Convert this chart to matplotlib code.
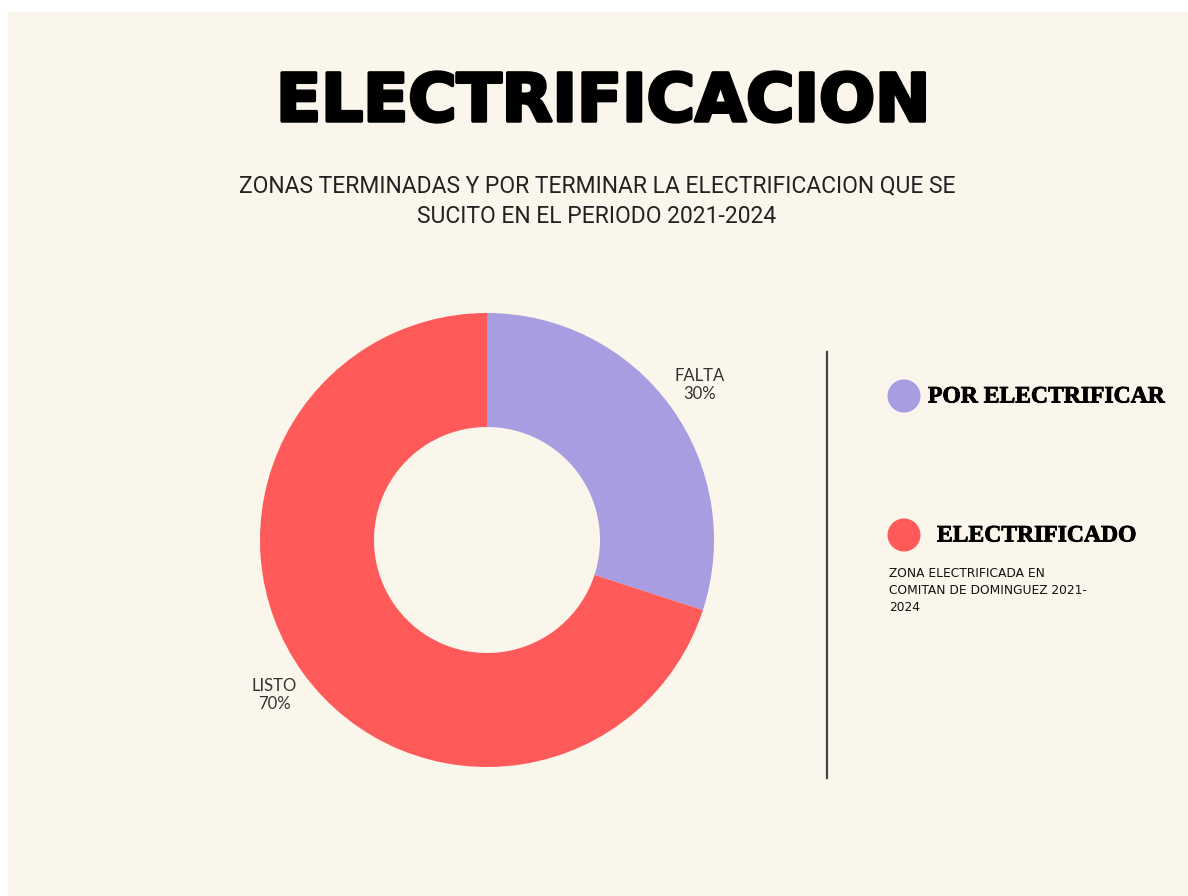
import matplotlib
matplotlib.use('Agg')
import matplotlib.pyplot as plt
import matplotlib.patheffects as pe
from matplotlib.patches import Circle, Rectangle

# data
labels = ['FALTA', 'LISTO']
values = [30, 70]
colors = ['#A89DE1', '#FF5A5A']
legend_names = ['POR ELECTRIFICAR', 'ELECTRIFICADO']
title = 'ELECTRIFICACION'
subtitle = ('ZONAS TERMINADAS Y POR TERMINAR LA ELECTRIFICACION QUE SE\n'
            'SUCITO EN EL PERIODO 2021-2024')
note = 'ZONA ELECTRIFICADA EN\nCOMITAN DE DOMINGUEZ 2021-\n2024'

W, H = 1188, 896
BG = '#FAF6EB'


def Y(y):
    # pixel row (from top) to data y
    return H - y


fig = plt.figure(figsize=(W / 100, H / 100), dpi=100)
fig.patch.set_facecolor('white')
ax = fig.add_axes([0, 0, 1, 1])
ax.add_patch(Rectangle((8, 0), W - 8, H - 12, color=BG, zorder=0))

pie_labels = ['%s\n%d%%' % (l, v) for l, v in zip(labels, values)]
ax.pie(values, colors=colors, labels=pie_labels, startangle=90,
       counterclock=False, center=(487, Y(540)), radius=227,
       labeldistance=1.16,
       wedgeprops=dict(width=114, linewidth=0),
       textprops=dict(ha='center', va='center', fontsize=12,
                      family=['Lato', 'DejaVu Sans'], color='#333333',
                      linespacing=1.15))

ax.text(603, Y(103), title, ha='center', va='center', fontsize=47.5,
        fontweight='heavy', family=['DejaVu Sans'], color='black',
        path_effects=[pe.withStroke(linewidth=2.5, foreground='black')])
ax.text(597, Y(201), subtitle, ha='center', va='center', fontsize=16.5,
        family=['Roboto', 'DejaVu Sans'],
        color='#222222', linespacing=1.4)

ax.plot([827, 827], [Y(352), Y(778)], color='#444444', lw=1.6)

legend_y = [396, 535]
text_x = [928, 937]
for name, c, yy, tx in zip(legend_names, colors, legend_y, text_x):
    ax.add_patch(Circle((904, Y(yy)), 16.5, color=c, lw=0))
    ax.text(tx, Y(yy + 1), name, ha='left', va='center', fontsize=17,
            fontweight='bold', family=['Liberation Serif', 'DejaVu Serif'],
            color='black',
            path_effects=[pe.withStroke(linewidth=0.6, foreground='black')])

ax.text(889, Y(590), note, ha='left', va='center', fontsize=8.8,
        family=['DejaVu Sans'], color='#111111', linespacing=1.4)

ax.set_xlim(0, W)
ax.set_ylim(0, H)
ax.set_aspect('auto')
ax.axis('off')

fig.savefig('out.png', dpi=100, facecolor=fig.get_facecolor())
